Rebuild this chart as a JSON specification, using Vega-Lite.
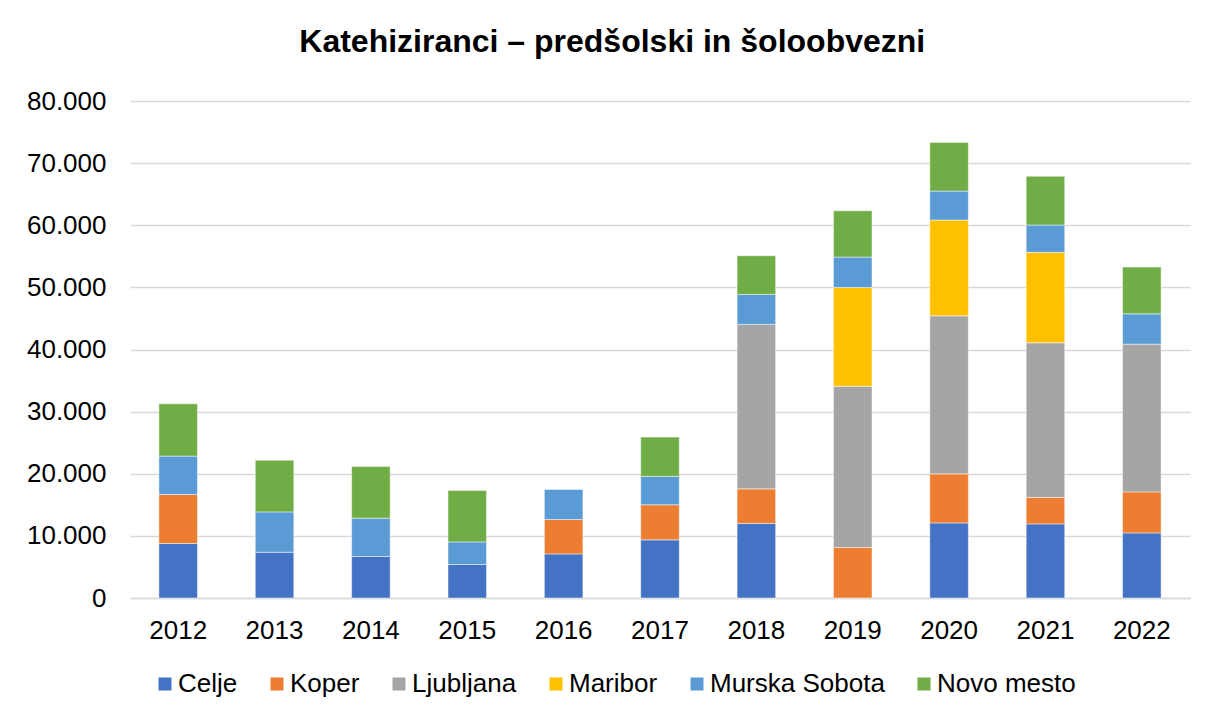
{
  "$schema": "https://vega.github.io/schema/vega-lite/v6.json",
  "autosize": {"type": "none"},
  "width": 1060,
  "height": 497,
  "padding": {"left": 130, "top": 101, "right": 16, "bottom": 116},
  "background": "#ffffff",
  "title": {
    "text": "Katehiziranci – predšolski in šoloobvezni",
    "font": "Liberation Sans",
    "fontSize": 32,
    "fontWeight": "bold",
    "color": "#000000",
    "anchor": "middle",
    "frame": "bounds",
    "baseline": "alphabetic",
    "dx": 4,
    "offset": 4
  },
  "config": {
    "view": {"stroke": null},
    "font": "Liberation Sans"
  },
  "data": {
    "values": [
      {"year": "2012", "region": "Celje", "o": 1, "value": 8780},
      {"year": "2012", "region": "Koper", "o": 2, "value": 7890},
      {"year": "2012", "region": "Murska Sobota", "o": 5, "value": 6170},
      {"year": "2012", "region": "Novo mesto", "o": 6, "value": 8420},
      {"year": "2013", "region": "Celje", "o": 1, "value": 7370},
      {"year": "2013", "region": "Murska Sobota", "o": 5, "value": 6490},
      {"year": "2013", "region": "Novo mesto", "o": 6, "value": 8330},
      {"year": "2014", "region": "Celje", "o": 1, "value": 6680},
      {"year": "2014", "region": "Murska Sobota", "o": 5, "value": 6170},
      {"year": "2014", "region": "Novo mesto", "o": 6, "value": 8330},
      {"year": "2015", "region": "Celje", "o": 1, "value": 5390},
      {"year": "2015", "region": "Murska Sobota", "o": 5, "value": 3640},
      {"year": "2015", "region": "Novo mesto", "o": 6, "value": 8280},
      {"year": "2016", "region": "Celje", "o": 1, "value": 7100},
      {"year": "2016", "region": "Koper", "o": 2, "value": 5540},
      {"year": "2016", "region": "Murska Sobota", "o": 5, "value": 4830},
      {"year": "2017", "region": "Celje", "o": 1, "value": 9360},
      {"year": "2017", "region": "Koper", "o": 2, "value": 5640},
      {"year": "2017", "region": "Murska Sobota", "o": 5, "value": 4570},
      {"year": "2017", "region": "Novo mesto", "o": 6, "value": 6330},
      {"year": "2018", "region": "Celje", "o": 1, "value": 12000},
      {"year": "2018", "region": "Koper", "o": 2, "value": 5570},
      {"year": "2018", "region": "Ljubljana", "o": 3, "value": 26470},
      {"year": "2018", "region": "Murska Sobota", "o": 5, "value": 4830},
      {"year": "2018", "region": "Novo mesto", "o": 6, "value": 6220},
      {"year": "2019", "region": "Koper", "o": 2, "value": 8130},
      {"year": "2019", "region": "Ljubljana", "o": 3, "value": 25970},
      {"year": "2019", "region": "Maribor", "o": 4, "value": 15890},
      {"year": "2019", "region": "Murska Sobota", "o": 5, "value": 4880},
      {"year": "2019", "region": "Novo mesto", "o": 6, "value": 7460},
      {"year": "2020", "region": "Celje", "o": 1, "value": 12090},
      {"year": "2020", "region": "Koper", "o": 2, "value": 7890},
      {"year": "2020", "region": "Ljubljana", "o": 3, "value": 25440},
      {"year": "2020", "region": "Maribor", "o": 4, "value": 15410},
      {"year": "2020", "region": "Murska Sobota", "o": 5, "value": 4670},
      {"year": "2020", "region": "Novo mesto", "o": 6, "value": 7840},
      {"year": "2021", "region": "Celje", "o": 1, "value": 11930},
      {"year": "2021", "region": "Koper", "o": 2, "value": 4250},
      {"year": "2021", "region": "Ljubljana", "o": 3, "value": 24900},
      {"year": "2021", "region": "Maribor", "o": 4, "value": 14560},
      {"year": "2021", "region": "Murska Sobota", "o": 5, "value": 4400},
      {"year": "2021", "region": "Novo mesto", "o": 6, "value": 7840},
      {"year": "2022", "region": "Celje", "o": 1, "value": 10480},
      {"year": "2022", "region": "Koper", "o": 2, "value": 6600},
      {"year": "2022", "region": "Ljubljana", "o": 3, "value": 23780},
      {"year": "2022", "region": "Murska Sobota", "o": 5, "value": 4880},
      {"year": "2022", "region": "Novo mesto", "o": 6, "value": 7520}
    ]
  },
  "mark": {"type": "bar", "stroke": "#ffffff", "strokeWidth": 0.8, "strokeOpacity": 0.6},
  "encoding": {
    "x": {
      "field": "year",
      "type": "nominal",
      "scale": {"paddingInner": 0.6, "paddingOuter": 0.3},
      "axis": {
        "title": null,
        "labelAngle": 0,
        "labelFontSize": 26,
        "labelColor": "#000000",
        "labelPadding": 19,
        "ticks": false,
        "domainColor": "#d9d9d9",
        "domainWidth": 1.5,
        "grid": false
      }
    },
    "y": {
      "field": "value",
      "type": "quantitative",
      "aggregate": "sum",
      "stack": "zero",
      "scale": {"domain": [0, 80000], "nice": false},
      "axis": {
        "title": null,
        "values": [0, 10000, 20000, 30000, 40000, 50000, 60000, 70000, 80000],
        "labelExpr": "replace(format(datum.value, ','), ',', '.')",
        "labelFontSize": 26,
        "labelColor": "#000000",
        "labelPadding": 24,
        "ticks": false,
        "domain": false,
        "gridColor": "#d9d9d9",
        "gridWidth": 1.5
      }
    },
    "color": {
      "field": "region",
      "type": "nominal",
      "scale": {
        "domain": ["Celje", "Koper", "Ljubljana", "Maribor", "Murska Sobota", "Novo mesto"],
        "range": ["#4472C4", "#ED7D31", "#A5A5A5", "#FFC000", "#5B9BD5", "#70AD47"]
      },
      "legend": {
        "title": null,
        "orient": "none",
        "direction": "horizontal",
        "legendX": 22,
        "legendY": 570,
        "symbolType": "square",
        "symbolSize": 169,
        "symbolStrokeWidth": 0,
        "labelFontSize": 26,
        "labelColor": "#000000",
        "labelOffset": 0,
        "labelLimit": 400,
        "columnPadding": 26
      }
    },
    "order": {"field": "o", "type": "quantitative", "sort": "ascending"}
  }
}
